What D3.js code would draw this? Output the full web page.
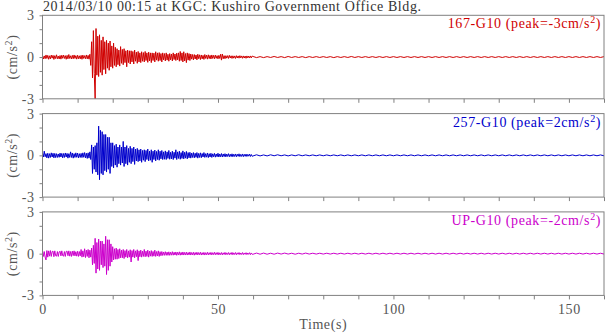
<!DOCTYPE html>
<html><head><meta charset="utf-8">
<script src="https://cdn.jsdelivr.net/npm/d3@7"></script>
<style>
html,body{margin:0;padding:0;background:#fff;}
text{font-family:"Liberation Serif","DejaVu Serif",serif;letter-spacing:0.6px;}
</style></head>
<body><svg id="c" width="605" height="334"></svg>
<script>
// ---- data ----
const titleText = "2014/03/10 00:15 at KGC: Kushiro Government Office Bldg.";
const channels = ["167-G10", "257-G10", "UP-G10"];
const peaks = ["-3", "2", "-2"];
const colors = ["#d00000", "#0000cc", "#cc00cc"];
const xTicks = [0, 50, 100, 150];
const yTickLabels = [3, 0, -3];
const activeStep = 0.25;            // s, samples from 0 to 59.75 s
const tailStart = 60, tailStep = 1; // s, samples from 60 to 160 s

// acceleration, cm/s^2 (one group per second)
const ns167 = [
 .1,-.14,.08,-.12, .15,-.1,.12,-.16, .09,-.13,.14,-.08, .12,-.17,.1,-.11, .16,-.12,.07,-.14,
 .11,-.15,.13,-.09, .14,-.1,.1,-.16, .12,-.13,.18,-.1, .09,-.14,.12,-.12, .15,-.1,.1,-.15,
 .13,-.12,.09,-.13, .12,-.16,.14,-.1, .1,-.12,.15,-.13, .12,-.15,.2,-.6, 1.1,-1.5,1.9,-1.2,
 -3.0,2.05,-1.3,1.5, -1.4,1.6,-1.1,1.2, -1.3,1.45,-.9,1.1, -1.2,1.2,-.8,1.0, -.95,1.15,-.7,.8,
 -.8,1.0,-.6,.7, -.7,.6,-.55,.5, -.65,.75,-.45,.55, -.55,.6,-.4,.45, -.7,.5,-.4,.45,
 -.5,.45,-.35,.4, -.5,.5,-.3,.35, -.45,.4,-.35,.3, -.4,.38,-.3,.32, -.35,.4,-.25,.3,
 -.38,.35,-.28,.3, -.4,.3,-.25,.28, -.35,.38,-.22,.3, -.3,.32,-.25,.25, -.35,.3,-.2,.25,
 -.28,.3,-.22,.2, -.3,.25,-.2,.22, -.28,.3,-.18,.22, -.25,.28,-.2,.3, -.3,.4,-.25,.3,
 -.35,.38,-.28,.25, -.4,.3,-.22,.25, -.25,.22,-.15,.18, -.2,.18,-.14,.15, -.2,.2,-.12,.16,
 -.18,.15,-.13,.12, -.17,.18,-.1,.14, -.15,.16,-.11,.12, -.14,.15,-.1,.12, -.12,.14,-.09,.1,
 -.13,.12,-.1,.2, -.22,.22,-.12,.1, -.12,.1,-.08,.1, -.1,.12,-.07,.09, -.1,.09,-.08,.08,
 -.1,.1,-.07,.08, -.08,.1,-.06,.08, -.09,.08,-.07,.07, -.09,.08,-.06,.07, -.07,.08,-.06,.07];
const ns167Tail = [
 .04,-.04,.03,-.04,.03,-.03,.04,-.03,.03,-.04, .04,-.03,.03,-.03,.03,-.04,.03,-.03,.03,-.03,
 .03,-.03,.03,-.04,.03,-.03,.03,-.03,.04,-.03, .03,-.03,.03,-.03,.03,-.03,.03,-.03,.03,-.03,
 .03,-.03,.03,-.03,.03,-.03,.03,-.03,.03,-.03, .03,-.03,.03,-.03,.03,-.03,.03,-.03,.03,-.03,
 .03,-.03,.03,-.03,.03,-.03,.03,-.03,.03,-.03, .03,-.03,.03,-.03,.03,-.03,.03,-.03,.03,-.03,
 .03,-.03,.03,-.03,.03,-.03,.03,-.03,.03,-.03, .03,-.03,.03,-.03,.03,-.03,.03,-.03,.03,-.03, .03];

const ew257 = [
 .15,-.12,.3,-.1, .12,-.18,.15,-.2, .12,-.15,.18,-.12, .15,-.18,.14,-.16, .12,-.15,.1,-.14,
 .16,-.12,.14,-.18, .13,-.15,.17,-.12, .14,-.2,.12,-.15, .25,-.15,.17,-.2, .12,-.15,.18,-.14,
 .16,-.18,.12,-.15, .14,-.16,.18,-.14, .2,-.18,.15,-.22, .18,-.2,.25,-.3, .75,-1.3,.6,-1.0,
 .7,-1.2,.9,-1.4, 2.1,-1.75,1.8,-1.3, 1.7,-1.4,1.5,-1.1, 1.5,-1.2,1.3,-1.0, 1.3,-1.3,.9,-.8,
 .9,-.9,.7,-.7, .8,-.85,.6,-.6, .75,-.7,.6,-.55, 1.0,-.8,.6,-.6, .7,-.7,.5,-.5,
 .65,-.6,.5,-.45, .6,-.65,.45,-.4, .5,-.45,.4,-.4, .45,-.5,.35,-.35, .4,-.45,.35,-.3,
 .45,-.4,.3,-.35, .4,-.5,.3,-.3, .38,-.4,.28,-.3, .4,-.35,.3,-.25, .35,-.3,.25,-.28,
 .32,-.3,.25,-.22, .35,-.28,.22,-.25, .3,-.3,.22,-.2, .4,-.3,.25,-.22, .3,-.28,.2,-.22,
 .32,-.25,.22,-.2, .28,-.25,.2,-.18, .22,-.2,.16,-.15, .2,-.18,.15,-.14, .2,-.2,.14,-.15,
 .18,-.17,.13,-.12, .2,-.15,.12,-.13, .17,-.16,.12,-.12, .15,-.15,.11,-.1, .14,-.13,.1,-.1,
 .15,-.12,.1,-.1, .13,-.12,.1,-.09, .12,-.11,.09,-.08, .12,-.1,.08,-.09, .11,-.1,.08,-.08,
 .1,-.1,.08,-.07, .11,-.09,.07,-.08, .1,-.09,.07,-.07, .09,-.08,.07,-.06, .09,-.08,.06,-.07];
const ew257Tail = [
 -.04,.04,-.04,.03,-.04,.04,-.03,.04,-.03,.03, -.04,.03,-.03,.04,-.03,.03,-.03,.03,-.03,.03,
 -.03,.03,-.03,.03,-.03,.03,-.03,.03,-.03,.03, -.03,.03,-.03,.03,-.03,.03,-.03,.03,-.03,.03,
 -.03,.03,-.03,.03,-.03,.03,-.03,.03,-.03,.03, -.03,.03,-.03,.03,-.03,.03,-.03,.03,-.03,.03,
 -.03,.03,-.03,.03,-.03,.03,-.03,.03,-.03,.03, -.03,.03,-.03,.03,-.03,.03,-.03,.03,-.03,.03,
 -.03,.03,-.03,.03,-.03,.03,-.03,.03,-.03,.03, -.03,.03,-.03,.03,-.03,.03,-.03,.03,-.03,.03, -.03];

const ud = [
 .2,-.2,.15,-.25, -.45,.22,-.25,.2, -.18,.22,-.2,.15, .18,-.22,.2,-.15, -.18,.15,-.2,.12,
 .18,-.16,.2,-.14, -.18,.15,-.2,.16, .18,-.15,.2,-.18, .15,-.2,.18,-.14, .2,-.16,.14,-.18,
 .17,-.2,.15,-.16, .3,-.25,.2,-.22, .35,-.28,.25,-.2, .3,-.3,.25,-.25, .4,-.8,.6,-.7,
 1.1,-1.4,.8,-1.1, 1.05,-1.2,.9,-.8, .9,-1.0,.7,-.9, 1.25,-1.5,1.0,-1.2, 1.0,-.9,.7,-.6,
 .5,-.45,.35,-.4, .4,-.4,.3,-.35, .35,-.3,.25,-.3, .3,-.35,.22,-.25, .3,-.3,.2,-.25,
 .28,-.6,.22,-.25, .3,-.3,.2,-.22, .28,-.5,.2,-.22, .25,-.25,.18,-.2, .3,-.22,.18,-.2,
 .25,-.25,.18,-.18, .22,-.2,.16,-.18, .25,-.2,.15,-.17, .2,-.2,.14,-.15, .15,-.13,.12,-.12,
 .14,-.12,.11,-.12, .13,-.12,.1,-.11, .14,-.11,.1,-.1, .12,-.12,.1,-.1, .13,-.11,.09,-.1,
 .12,-.1,.09,-.1, .11,-.1,.08,-.09, .12,-.1,.08,-.09, .1,-.11,.08,-.08, .1,-.09,.08,-.08,
 .1,-.1,.07,-.08, .09,-.1,.07,-.08, .1,-.09,.07,-.07, .09,-.09,.07,-.07, .1,-.08,.07,-.07,
 .09,-.09,.06,-.07, .08,-.09,.06,-.06, .09,-.08,.06,-.06, .08,-.08,.06,-.06, .09,-.08,.06,-.06,
 .08,-.08,.06,-.05, .08,-.07,.05,-.06, .08,-.07,.05,-.05, .07,-.07,.05,-.05, .07,-.07,.05,-.05];
const udTail = [
 -.04,.04,-.04,.04,-.04,.03,-.04,.04,-.03,.04, -.03,.03,-.04,.03,-.03,.04,-.03,.03,-.03,.03,
 -.03,.03,-.03,.03,-.03,.03,-.03,.03,-.03,.03, -.03,.03,-.03,.03,-.03,.03,-.03,.03,-.03,.03,
 -.03,.03,-.03,.03,-.03,.03,-.03,.03,-.03,.03, -.03,.03,-.03,.03,-.03,.03,-.03,.03,-.03,.03,
 -.03,.03,-.03,.03,-.03,.03,-.03,.03,-.03,.03, -.03,.03,-.03,.03,-.03,.03,-.03,.03,-.03,.03,
 -.03,.03,-.03,.03,-.03,.03,-.03,.03,-.03,.03, -.03,.03,-.03,.03,-.03,.03,-.03,.03,-.03,.03, -.03];

const series = [[ns167, ns167Tail], [ew257, ew257Tail], [ud, udTail]];

// ---- layout ----
const svg = d3.select("#c");
const left = 42.5, right = 604;
const panelTop0 = 15.3, panelGap = 98.3, panelH = 83.5;
const frameColor = "#808080", textColor = "#555";
const fs = 14;

const x = d3.scaleLinear().domain([0, 160]).range([left, right]);

svg.append("text").attr("x", 43).attr("y", 10.5).attr("font-size", fs)
  .attr("fill", "#333").text(titleText);

series.forEach((s, i) => {
  const top = panelTop0 + i * panelGap;
  const y = d3.scaleLinear().domain([-3, 3]).range([top + panelH, top]);
  const g = svg.append("g");
  const pts = s[0].map((v, k) => [k * activeStep, v])
    .concat(s[1].map((v, k) => [tailStart + k * tailStep, v]));
  g.append("path").datum(pts)
    .attr("d", d3.line().x(d => x(d[0])).y(d => y(d[1])))
    .attr("fill", "none").attr("stroke", colors[i]).attr("stroke-width", 1)
    .attr("stroke-linejoin", "miter").attr("stroke-miterlimit", 2);

  // frame
  g.append("rect").attr("x", left).attr("y", top).attr("width", right - left).attr("height", panelH)
    .attr("fill", "none").attr("stroke", frameColor).attr("stroke-width", 1);

  // y ticks
  const yAx = g.append("g").attr("transform", `translate(${left},0)`)
    .call(d3.axisLeft(y).tickValues(d3.range(-3, 4)).tickSize(3)
      .tickFormat(d => yTickLabels.includes(d) ? (d < 0 ? "-" + (-d) : String(d)) : ""));
  yAx.select(".domain").remove();
  yAx.selectAll("line").attr("stroke", frameColor);
  yAx.selectAll("text").attr("font-size", fs).attr("fill", textColor)
    .attr("font-family", "Liberation Serif").attr("x", -8);

  // x ticks
  const xAx = g.append("g").attr("transform", `translate(0,${top + panelH})`)
    .call(d3.axisBottom(x).tickValues(d3.range(0, 161, 10)).tickSize(4)
      .tickFormat(d => (i === 2 && xTicks.includes(d)) ? d : ""));
  xAx.select(".domain").remove();
  xAx.selectAll("line").attr("stroke", frameColor);
  xAx.selectAll("text").attr("font-size", fs).attr("fill", textColor)
    .attr("font-family", "Liberation Serif").attr("dy", "0.85em");

  // y label
  const yl = g.append("text").attr("transform", `translate(17,${top + panelH / 2}) rotate(-90)`)
    .attr("text-anchor", "middle").attr("font-size", fs).attr("fill", textColor);
  yl.append("tspan").text("(cm/s");
  yl.append("tspan").attr("dy", -5).attr("font-size", 10).text("2");
  yl.append("tspan").attr("dy", 5).text(")");

  // legend
  const lg = g.append("text").attr("x", 601).attr("y", top + 13).attr("text-anchor", "end")
    .attr("font-size", fs).attr("fill", colors[i]);
  lg.append("tspan").text(`${channels[i]} (peak=${peaks[i]}cm/s`);
  lg.append("tspan").attr("dy", -5).attr("font-size", 10).text("2");
  lg.append("tspan").attr("dy", 5).text(")");
});

svg.append("text").attr("x", (left + right) / 2).attr("y", 329).attr("text-anchor", "middle")
  .attr("font-size", fs).attr("fill", textColor).text("Time(s)");
</script></body></html>
